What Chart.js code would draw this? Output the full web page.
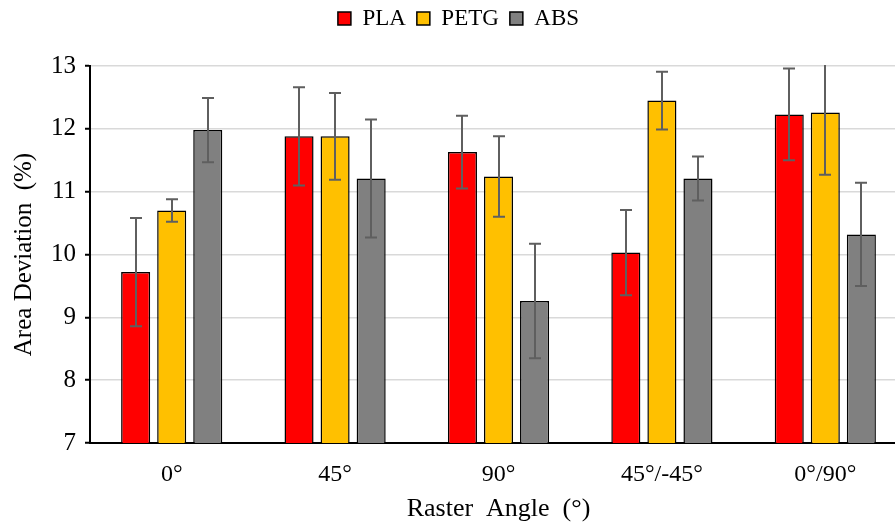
<!DOCTYPE html>
<html>
<head>
<meta charset="utf-8">
<script src="https://cdn.jsdelivr.net/npm/chart.js@4"></script>
<style>
html,body{margin:0;padding:0;background:#fff;overflow:hidden;}
#wrap{width:907px;height:526px;}
</style>
</head>
<body>
<div id="wrap"><canvas id="c" width="907" height="526"></canvas></div>
<script>
const categories = ['0°', '45°', '90°', '45°/-45°', '0°/90°'];
const seriesNames = ['PLA', 'PETG', 'ABS'];
const plaValues  = [9.72, 11.88, 11.63, 10.03, 12.23];
const plaErrors  = [0.86, 0.78, 0.58, 0.68, 0.73];
const petgValues = [10.70, 11.88, 11.24, 12.45, 12.26];
const petgErrors = [0.18, 0.69, 0.64, 0.46, 0.99];
const absValues  = [11.98, 11.21, 9.26, 11.21, 10.32];
const absErrors  = [0.51, 0.94, 0.91, 0.35, 0.82];
const yTicks = [7, 8, 9, 10, 11, 12, 13];

const FONT = '"Liberation Serif", "Times New Roman", serif';
const colors = ['#FF0000', '#FFC000', '#808080'];
const allErrors = [plaErrors, petgErrors, absErrors];

const errorBarPlugin = {
  id: 'errorBars',
  afterDatasetsDraw(chart) {
    const ctx = chart.ctx;
    const yScale = chart.scales.y;
    const area = chart.chartArea;
    ctx.save();
    ctx.beginPath();
    ctx.rect(area.left, area.top - 1, area.right - area.left, area.bottom - area.top + 2);
    ctx.clip();
    ctx.strokeStyle = '#5f5f5f';
    ctx.lineWidth = 2;
    const cap = 6;
    chart.data.datasets.forEach((ds, i) => {
      const meta = chart.getDatasetMeta(i);
      meta.data.forEach((el, j) => {
        const v = ds.data[j];
        const e = allErrors[i][j];
        const x = Math.round(el.x);
        const yt = yScale.getPixelForValue(v + e);
        const yb = yScale.getPixelForValue(v - e);
        ctx.beginPath();
        ctx.moveTo(x, yt); ctx.lineTo(x, yb);
        if (yt > area.top + 1) { ctx.moveTo(x - cap, yt); ctx.lineTo(x + cap, yt); }
        ctx.moveTo(x - cap, yb); ctx.lineTo(x + cap, yb);
        ctx.stroke();
      });
    });
    ctx.restore();
  }
};

const legendHeightPlugin = {
  id: 'legendHeight',
  beforeUpdate(chart) {
    const lg = chart.legend;
    if (lg && !lg._patched) {
      const orig = lg.fit;
      lg.fit = function () { orig.call(this); this.height = 66; };
      lg._patched = true;
    }
  },
  afterLayout(chart) {
    const lg = chart.legend;
    if (lg) { lg.left += 5; lg.right += 5; lg.top -= 4; lg.bottom -= 4; }
  }
};

const makeDs = (label, data, color) => ({
  label, data,
  backgroundColor: color,
  borderColor: '#000',
  borderWidth: 1.5,
  borderSkipped: false,
  categoryPercentage: 0.662,
  barPercentage: 0.806
});

new Chart(document.getElementById('c'), {
  type: 'bar',
  data: {
    labels: categories,
    datasets: [
      makeDs(seriesNames[0], plaValues, colors[0]),
      makeDs(seriesNames[1], petgValues, colors[1]),
      makeDs(seriesNames[2], absValues, colors[2])
    ]
  },
  options: {
    responsive: false,
    animation: false,
    devicePixelRatio: 1,
    layout: { padding: { left: 0, right: 0, top: 0, bottom: 0 } },
    plugins: {
      tooltip: { enabled: false },
      legend: {
        position: 'top',
        labels: {
          boxWidth: 13, boxHeight: 13, padding: 11,
          color: '#000',
          font: { family: FONT, size: 23 }
        }
      }
    },
    scales: {
      x: {
        offset: true,
        grid: { display: false },
        border: { display: true, color: '#000', width: 2 },
        ticks: { color: '#000', font: { family: FONT, size: 24 }, padding: 9, maxRotation: 0 },
        title: { display: true, text: 'Raster  Angle  (°)', color: '#000', font: { family: FONT, size: 26 }, padding: { top: 0, bottom: 1 } },
        afterFit(scale) { scale.height = 83; }
      },
      y: {
        min: 7, max: 13,
        afterBuildTicks(scale) { scale.ticks = yTicks.map(v => ({ value: v })); },
        grid: { color: '#d9d9d9', lineWidth: 1.5, tickColor: '#000', tickLength: 5, tickWidth: 2 },
        border: { display: true, color: '#000', width: 2 },
        ticks: { color: '#000', font: { family: FONT, size: 25 }, padding: 9 },
        title: { display: true, text: 'Area Deviation  (%)', color: '#000', font: { family: FONT, size: 25 }, padding: { top: 9, bottom: 0 } },
        afterFit(scale) { scale.width = 90; }
      }
    }
  },
  plugins: [errorBarPlugin, legendHeightPlugin]
});
</script>
</body>
</html>
